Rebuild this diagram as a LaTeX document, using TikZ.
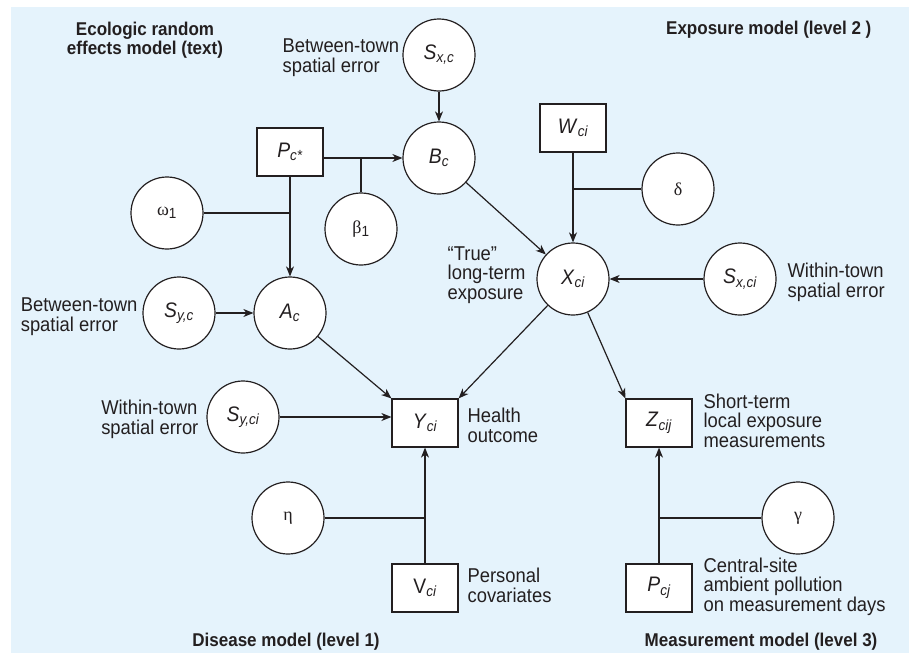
\documentclass[tikz,border=0pt]{standalone}
\usepackage{fontspec}
\setmainfont{Liberation Sans}[FakeStretch=0.92]
\newfontfamily\grk{Liberation Serif}
\usetikzlibrary{arrows.meta}
\tikzset{>={Stealth[length=10pt,width=8pt,inset=3pt]}}
\definecolor{panel}{RGB}{229,243,252}
\definecolor{ink}{RGB}{35,31,32}
\newcommand{\sbi}[1]{\textsubscript{\itshape #1}}

\begin{document}
\begin{tikzpicture}[x=1pt, y=-1pt, line width=1.2pt, draw=ink, text=ink,
  var/.style={circle, draw, fill=white, minimum size=72pt, inner sep=0pt, font=\fontsize{21}{21}\selectfont},
  obs/.style={rectangle, draw, fill=white, minimum width=66pt, minimum height=48pt, inner sep=0pt, font=\fontsize{21}{21}\selectfont},
  lbl/.style={font=\fontsize{20}{19.5}\selectfont, inner sep=0pt},
  ttl/.style={font=\fontsize{18.5}{19}\selectfont\bfseries, inner sep=0pt}]
\useasboundingbox (0,0) rectangle (909,653);
\fill[panel] (11,7) rectangle (909,653);

% variables
\node[var] (sxc) at (439,55) {\textit{S}\sbi{x,c}};
\node[var] (bc) at (439,158) {\textit{B}\sbi{c}};
\node[obs] (pcs) at (290,152) {\textit{P}\sbi{c*}};
\node[var] (om) at (167,213) {{\grk\fontsize{18}{18}\selectfont ω}\textsubscript{1}};
\node[var] (beta) at (361,229) {{\grk\fontsize{18}{18}\selectfont β}\textsubscript{1}};
\node[var] (ac) at (290,313) {\textit{A}\sbi{c}};
\node[var] (syc) at (179,313) {\textit{S}\sbi{y,c}};
\node[obs] (yci) at (425,423) {\textit{Y}\sbi{ci}};
\node[var] (syci) at (243,417) {\textit{S}\sbi{y,ci}};
\node[var] (eta) at (288,518) {{\grk\fontsize{18}{18}\selectfont η}};
\node[obs] (vci) at (425,588) {V\sbi{ci}};
\node[obs] (wci) at (573,128) {\textit{W}\sbi{ci}};
\node[var] (del) at (678,189) {{\grk\fontsize{18}{18}\selectfont δ}};
\node[var] (xci) at (573,279) {\textit{X}\sbi{ci}};
\node[var] (sxci) at (740,279) {\textit{S}\sbi{x,ci}};
\node[obs] (zci) at (659,423) {\textit{Z}\sbi{cij}};
\node[var] (gam) at (798,518) {{\grk\fontsize{18}{18}\selectfont γ}};
\node[obs] (pcj) at (659,588) {\textit{P}\sbi{cj}};

% links
\draw[->] (sxc) -- (bc);
\draw[->] (pcs.east |- bc) -- (bc);
\draw (beta) -- (beta |- bc);
\draw[->] (pcs) -- (ac);
\draw (om) -- (om -| pcs);
\draw[->] (syc) -- (ac);
\draw[->] (ac) -- (yci.north west);
\draw[->] (syci) -- (yci.west |- syci);
\draw[->] (vci) -- (yci);
\draw (eta) -- (eta -| vci);
\draw[->] (wci) -- (xci);
\draw (del) -- (del -| wci);
\draw[->] (bc) -- (xci);
\draw[->] (sxci) -- (xci);
\draw[->] (xci) -- (yci.north east);
\draw[->] (xci) -- (zci.north west);
\draw[->] (pcj) -- (zci);
\draw (gam) -- (gam -| pcj);

% labels (base = last line)
\node[lbl, anchor=base west, align=left] (lsxc) at (282,72) {Between-town\\spatial error};
\node[lbl, anchor=base east, align=left] (lsyc) at (138,331) {Between-town\\spatial error};
\node[lbl, anchor=base east, align=left] (lsyci) at (199,434) {Within-town\\spatial error};
\node[lbl, anchor=base east, align=left] (lxci) at (526,299) {“True”\\long-term\\exposure};
\node[lbl, anchor=base west, align=left] (lsxci) at (787,297) {Within-town\\spatial error};
\node[lbl, anchor=base west, align=left] (lyci) at (467,442) {Health\\outcome};
\node[lbl, anchor=base west, align=left] (lvci) at (467,602) {Personal\\covariates};
\node[lbl, anchor=base west, align=left] (lzci) at (703,447) {Short-term\\local exposure\\measurements};
\node[lbl, anchor=base west, align=left] (lpcj) at (703,611) {Central-site\\ambient pollution\\on measurement days};

% model titles
\node[ttl, anchor=base, align=center] (teco) at (145,54) {Ecologic random\\effects model (text)};
\node[ttl, anchor=base east] (texp) at (872,34) {Exposure model (level 2 )};
\node[ttl, anchor=base] (tdis) at (286,646) {Disease model (level 1)};
\node[ttl, anchor=base east] (tmea) at (878,646) {Measurement model (level 3)};
\end{tikzpicture}
\end{document}
